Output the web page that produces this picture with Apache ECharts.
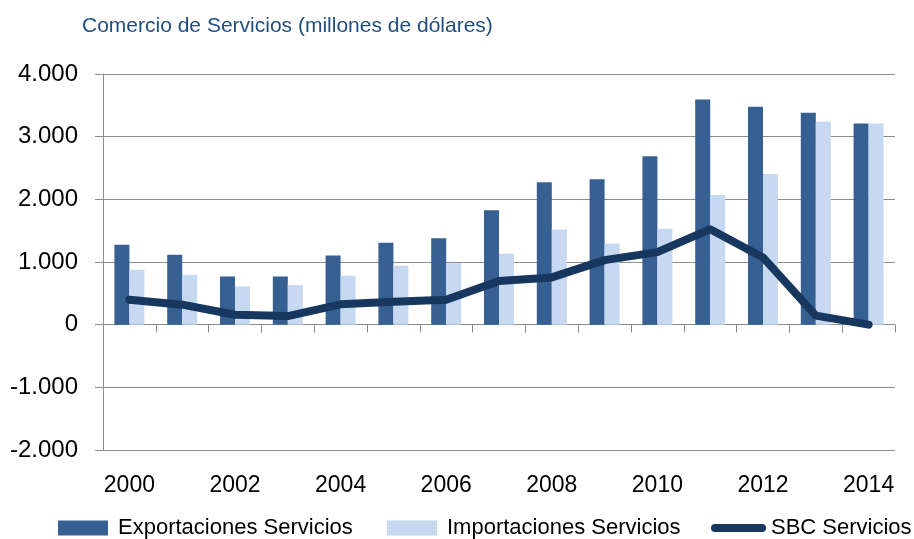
<!DOCTYPE html>
<html>
<head>
<meta charset="utf-8">
<script src="https://cdn.jsdelivr.net/npm/echarts@6/dist/echarts.min.js"></script>
<style>
html,body{margin:0;padding:0;background:#fff;}
#chart{width:914px;height:539px;}
</style>
</head>
<body>
<div id="chart"></div>
<script>
const years = ['2000','2001','2002','2003','2004','2005','2006','2007','2008','2009','2010','2011','2012','2013','2014'];
const exportaciones = [1274, 1115, 769, 769, 1104, 1306, 1380, 1826, 2272, 2320, 2686, 3594, 3477, 3381, 3211];
const importaciones = [876, 796, 610, 632, 780, 940, 982, 1130, 1518, 1290, 1529, 2070, 2404, 3237, 3211];
const sbc = [398, 319, 159, 137, 324, 366, 398, 696, 754, 1030, 1157, 1524, 1073, 144, 0];
const yTicks = {min: -2000, max: 4000, interval: 1000};

const FONT = '"Liberation Sans", Arial, sans-serif';
const fmt = v => {
  const s = Math.abs(v).toString().replace(/\B(?=(\d{3})+(?!\d))/g, '.');
  return (v < 0 ? '-' : '') + s;
};

const chart = echarts.init(document.getElementById('chart'));
chart.setOption({
  animation: false,
  backgroundColor: '#ffffff',
  title: {
    text: 'Comercio de Servicios (millones de dólares)',
    left: 82, top: 16, padding: 0,
    textStyle: {fontFamily: FONT, fontSize: 21, fontWeight: 'normal', color: '#1F4E80'}
  },
  legend: [
    {data: ['Exportaciones Servicios'], left: 58, top: 517, padding: 0, itemWidth: 50, itemHeight: 15,
     icon: 'rect', textStyle: {fontFamily: FONT, fontSize: 22, color: '#000', padding: [0,0,0,5]}},
    {data: ['Importaciones Servicios'], left: 387, top: 517, padding: 0, itemWidth: 50, itemHeight: 15,
     icon: 'rect', textStyle: {fontFamily: FONT, fontSize: 22, color: '#000', padding: [0,0,0,5]}},
    {data: [{name: 'SBC Servicios', icon: 'path://M4,0H51A4,4,0,0,1,51,8H4A4,4,0,0,1,4,0Z'}], left: 711, top: 517, padding: 0,
     itemWidth: 55, itemHeight: 8, textStyle: {fontFamily: FONT, fontSize: 22, color: '#000'}}
  ],
  grid: {left: 103, right: 19, top: 74, bottom: 89, containLabel: false},
  xAxis: [
    {type: 'category', data: years, position: 'bottom',
     axisLine: {onZero: true, lineStyle: {color: '#8C8C8C', width: 1}},
     axisTick: {show: true, length: 8, lineStyle: {color: '#8C8C8C'}},
     axisLabel: {show: false}},
    {type: 'category', data: years, position: 'bottom',
     axisLine: {show: false, onZero: false}, axisTick: {show: false},
     axisLabel: {show: true, interval: 1, margin: 24, fontFamily: FONT, fontSize: 23, color: '#000'}}
  ],
  yAxis: {
    type: 'value', min: yTicks.min, max: yTicks.max, interval: yTicks.interval,
    axisLine: {show: true, lineStyle: {color: '#8C8C8C', width: 1}},
    axisTick: {show: true, length: 8, lineStyle: {color: '#8C8C8C'}},
    splitLine: {show: true, lineStyle: {color: '#8C8C8C', width: 1}},
    axisLabel: {margin: 25, fontFamily: FONT, fontSize: 24, color: '#000', formatter: fmt}
  },
  series: [
    {name: 'Exportaciones Servicios', type: 'bar', data: exportaciones, xAxisIndex: 0,
     barWidth: 15, barGap: '0%', itemStyle: {color: '#376092'}, z: 2},
    {name: 'Importaciones Servicios', type: 'bar', data: importaciones, xAxisIndex: 0,
     barWidth: 15, barGap: '0%', itemStyle: {color: '#C6D9F1'}, z: 2},
    {name: 'SBC Servicios', type: 'line', data: sbc, xAxisIndex: 0, symbol: 'none',
     color: '#17375E', itemStyle: {color: '#17375E'},
     lineStyle: {color: '#17375E', width: 8, cap: 'round', join: 'round'}, z: 5}
  ]
});
</script>
</body>
</html>
